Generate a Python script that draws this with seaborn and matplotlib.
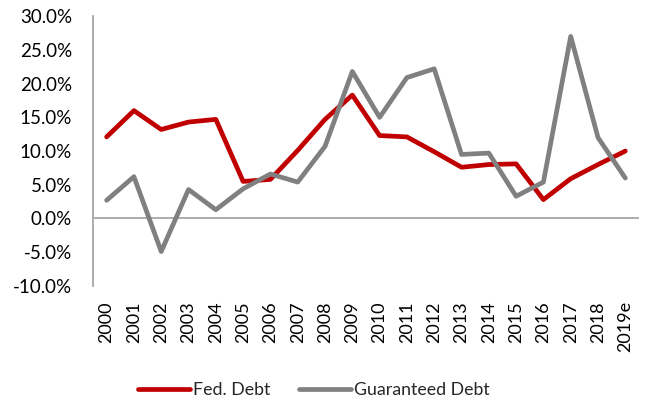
import matplotlib
matplotlib.use("Agg")
import matplotlib.pyplot as plt
import matplotlib.ticker as mticker
import numpy as np
import pandas as pd
import seaborn as sns

# Annual growth rates (%)
years = ["2000", "2001", "2002", "2003", "2004", "2005", "2006", "2007", "2008", "2009",
         "2010", "2011", "2012", "2013", "2014", "2015", "2016", "2017", "2018", "2019e"]
fed_debt = [12.1, 16.0, 13.2, 14.3, 14.7, 5.5, 5.8, 10.1, 14.7, 18.3,
            12.3, 12.1, 9.9, 7.6, 8.0, 8.1, 2.8, 5.9, 8.0, 10.0]
guaranteed_debt = [2.7, 6.2, -4.9, 4.3, 1.3, 4.4, 6.6, 5.4, 10.7, 21.8,
                   15.0, 20.9, 22.2, 9.5, 9.7, 3.3, 5.4, 27.0, 12.0, 6.0]
series_names = ["Fed. Debt", "Guaranteed Debt"]
colors = ["#C00000", "#808080"]

df = pd.DataFrame({
    "Year": years * 2,
    "pos": list(range(len(years))) * 2,
    "Growth": fed_debt + guaranteed_debt,
    "Series": [series_names[0]] * len(years) + [series_names[1]] * len(years),
})

sns.set_theme(style="white")
plt.rcParams["font.family"] = ["Lato", "DejaVu Sans"]

fig = plt.figure(figsize=(6.52, 4.05), dpi=100)
ax = fig.add_axes([0.1426, 0.294, 0.8374, 0.666])

sns.lineplot(data=df, x="pos", y="Growth", hue="Series", palette=colors,
             linewidth=3.4, ax=ax, legend=False)

ax.set_xlim(-0.5, len(years) - 0.5)
ax.set_ylim(-10, 30)
ax.set_yticks(np.arange(-10, 31, 5))
ax.yaxis.set_major_formatter(mticker.FuncFormatter(lambda v, _: f"{v:.1f}%"))
ax.set_xticks(range(len(years)))
ax.set_xticklabels(years, rotation=90)
ax.tick_params(axis="x", length=0, pad=11, labelsize=13, colors="#000000")
ax.tick_params(axis="y", length=0, pad=15, labelsize=13.5, colors="#000000")
ax.set_xlabel("")
ax.set_ylabel("")

for s in ["top", "right", "bottom"]:
    ax.spines[s].set_visible(False)
ax.spines["left"].set_color("#A6A6A6")
ax.spines["left"].set_linewidth(1.3)
ax.axhline(0, color="#A6A6A6", linewidth=1.3, zorder=1)

handles = [plt.Line2D([], [], color=c, linewidth=3.4) for c in colors]
fig.legend(handles, series_names, loc="center", bbox_to_anchor=(0.482, 0.037),
           ncol=2, frameon=False, fontsize=12.8, handlelength=2.9,
           handletextpad=0.2, columnspacing=1.6)

fig.savefig("out.png", dpi=100)
